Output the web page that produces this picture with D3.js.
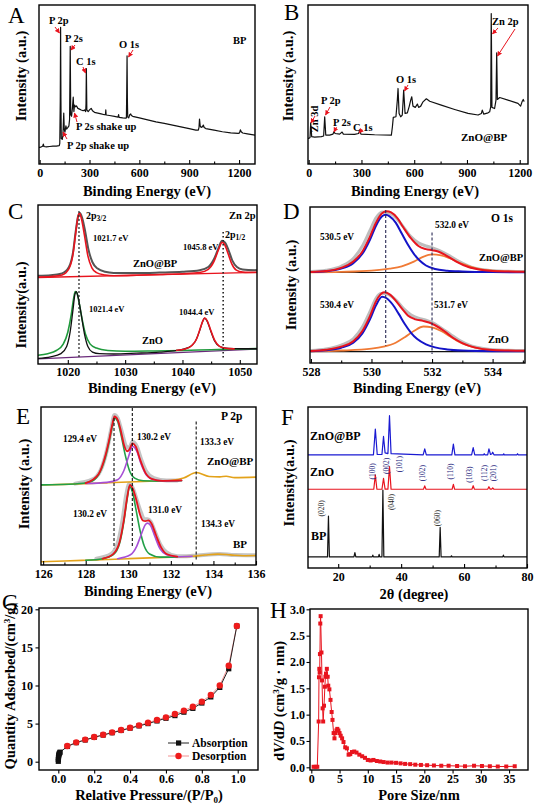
<!DOCTYPE html>
<html><head><meta charset="utf-8">
<script src="https://cdn.jsdelivr.net/npm/d3@7/dist/d3.min.js"></script>
<style>
body{margin:0;background:#fff;}
svg text{font-family:"Liberation Serif","Times New Roman",Times,serif;}
</style></head><body>
<script>
// ================= DATA =================
// A: XPS survey of BP  [binding energy eV, intensity a.u.]
const surveyBP = [[-4,10.4],[0,10.4],[10,10.8],[18,11.2],[22,12.5],[26,11],[40,10.8],[60,11],[80,11.2],[100,11.3],[118,11.5],[121,13],[124,40],[126,86],[128,40],[130,16],[136,15.5],[140,18],[145,32],[148,22],[152,20],[158,24],[162,22],[170,23],[176,24],[180,28],[184,74],[187,31],[192,30],[197,35],[202,42],[206,33],[210,37],[216,36],[222,36.5],[230,35],[240,34.5],[250,34],[262,33.5],[270,34],[277,33],[279,38],[281,60],[284,34],[292,33],[300,34],[310,35],[318,33.5],[330,32.5],[350,32],[370,31.5],[390,31],[396,31],[398,34],[400,30.8],[420,30.5],[450,30],[472,29.5],[475,31],[478,29.3],[500,29],[518,28.8],[522,29],[524,45],[526,68],[528,40],[530,29.5],[536,29],[542,31],[548,31.5],[552,30.5],[560,30],[580,29.5],[600,29],[650,27.8],[700,26.5],[750,25.5],[800,24.5],[850,23.3],[900,22.2],[940,21.3],[955,21.3],[959,23],[962,28.3],[966,24],[972,23],[980,23.5],[985,24.5],[990,23],[1000,22.3],[1050,21.3],[1100,20.3],[1150,19.6],[1195,19.2],[1203,19.6],[1208,21.5],[1213,20.3],[1222,19.5],[1250,19],[1296,18.2]];
// B: XPS survey of ZnO@BP
const surveyZnOBP = [[-4,16.1],[0,16.1],[7.6,16.7],[11.4,25.9],[17,17.2],[34,16.9],[72,17.2],[85,17.6],[91,29.7],[97,18.2],[119,18.2],[138,18.8],[144,20.3],[150,19.2],[176,18.8],[190,20.1],[197,18.8],[261,18.6],[284,19.2],[290,21.3],[297,18.8],[375,18.4],[470,18.2],[476,23.4],[481,29.3],[496,29.7],[504,40.2],[508,47.5],[514,31.8],[523,29.7],[532,30.8],[536,38],[540,46.4],[548,31.8],[561,32.2],[572,36.4],[580,40.2],[586,42.3],[593,36.4],[606,35.6],[618,37.7],[625,35.6],[637,36.4],[650,39.1],[669,41],[688,39.5],[754,37],[830,34.3],[906,31.8],[963,30.8],[982,31.8],[987,33.9],[995,31.4],[1020,32.2],[1029,32.8],[1035,36],[1038,94.6],[1042,35.6],[1057,34.9],[1065,40.2],[1069,69.9],[1073,40.6],[1086,41.8],[1133,40.2],[1190,38.1],[1205,36.4],[1213,39.1],[1220,40.6],[1224,39.5]];

// C: Zn 2p
const zn2pTopRaw = [[1014.8,55.5],[1017,55.8],[1019,57],[1020.2,61],[1020.9,70],[1021.4,84],[1021.8,93],[1022.1,95],[1022.5,92],[1023,84],[1023.6,72],[1024.3,64],[1025.2,60],[1026.5,58],[1028,57.3],[1032,57.2],[1036,57.5],[1040,58],[1043,59],[1044.5,61],[1045.5,66],[1046.3,73],[1046.9,77.5],[1047.4,76.5],[1048,72],[1048.7,65],[1049.5,61],[1050.5,59.5],[1053,59]];
const zn2pTopFit = [[1014.8,54.6],[1017,55],[1019,56],[1020.2,60],[1020.9,69],[1021.4,83],[1021.8,93],[1022.05,94.8],[1022.4,91],[1022.9,81],[1023.5,68],[1024.2,60.5],[1025,57.5],[1026.5,56],[1028,55.5],[1032,55.8],[1036,56.3],[1040,56.8],[1043,57.5],[1044.5,59.5],[1045.5,64.5],[1046.3,72],[1046.9,76.5],[1047.3,75.5],[1047.9,70],[1048.6,63],[1049.4,59],[1050.5,57.8],[1053,57.5]];
const zn2pTopBase = [[1014.8,54.4],[1053,57.7]];
const zn2pBotRaw = [[1014.8,3.5],[1017,4.5],[1018.8,6.5],[1019.8,11],[1020.4,20],[1020.9,34],[1021.25,44],[1021.5,45.5],[1021.8,42],[1022.3,32],[1022.9,19],[1023.5,11],[1024.3,7.5],[1025.5,6.5],[1028,6.3],[1032,6.8],[1036,7.5],[1039,8.5],[1041,10.3],[1042.2,14],[1043,21],[1043.5,26.5],[1043.85,28.8],[1044.3,27],[1044.9,21],[1045.6,14.5],[1046.5,11],[1048,9.8],[1050,9.6],[1053,9.6]];
const zn2pBotGreen = [[1014.8,5.5],[1016.5,6.5],[1018,8.5],[1019.2,12.5],[1020,20],[1020.6,31],[1021.0,41],[1021.3,45.5],[1021.6,44.5],[1022,38],[1022.5,28],[1023.1,18.5],[1023.9,12.5],[1025,10],[1027,8.5],[1030,8],[1035,8.2],[1040,8.5],[1045,9],[1050,9.4],[1053,9.7]];
const zn2pBotRed = [[1039,8.6],[1040.5,9.5],[1041.6,11.5],[1042.5,16],[1043.1,22.5],[1043.6,27.5],[1043.9,28.9],[1044.3,27.3],[1044.9,21.5],[1045.6,15],[1046.4,11.3],[1047.5,9.9],[1049,9.5]];
const zn2pBotBase = [[1014.8,3.2],[1053,9.4]];
const zn2pRefLines = [[1021.95,96,3.8],[1047.1,83,3.3]];

// D: O 1s
const o1sTopRaw = [[528,58.6],[528.5,59.5],[529,62],[529.4,67],[529.7,75],[529.95,85],[530.15,93],[530.35,96.8],[530.5,96.5],[530.7,95],[530.9,91],[531.1,86],[531.3,81],[531.55,77],[531.8,75],[532,74],[532.25,72],[532.55,69],[532.9,65],[533.3,61.5],[533.7,59.8],[534.2,59],[535.1,58.6]];
const o1sTopSum = [[528,58.4],[528.5,59],[529,61],[529.4,65],[529.7,71.5],[529.95,81],[530.15,90],[530.35,96],[530.5,97.2],[530.65,96.5],[530.85,93],[531.05,87],[531.3,80],[531.55,75],[531.8,73],[532,72.3],[532.2,71.5],[532.5,68.5],[532.8,65],[533.2,61.5],[533.6,59.8],[534,59],[535.1,58.5]];
const o1sTopLattice = [[528,58.3],[528.5,58.8],[529,60.5],[529.4,64],[529.7,70],[529.95,79],[530.15,88],[530.35,94],[530.47,95],[530.6,94],[530.8,90],[531.0,83],[531.2,76],[531.4,70],[531.6,65.5],[531.8,62.5],[532.1,60.3],[532.5,59.2],[533,58.7],[534,58.3],[535.1,58.2]];
const o1sTopOH = [[528,58.1],[529,58.4],[530,59.2],[530.6,60.5],[531,62],[531.4,65],[531.7,68],[532,69.6],[532.3,69],[532.6,67],[533,63.5],[533.5,60.5],[534,59.2],[535.1,58.4]];
const o1sTopBase = [[528,58],[535.1,58]];
const o1sBotRaw = [[528,8],[528.5,9],[529,11.5],[529.4,15.5],[529.7,23],[529.95,33],[530.15,41.5],[530.3,44.5],[530.45,44.6],[530.65,43],[530.85,39.5],[531.05,35],[531.3,31],[531.55,28.7],[531.8,27.5],[532,26],[532.3,22.5],[532.6,18.5],[532.9,14.5],[533.3,11],[533.8,9],[534.4,8.2],[535.1,8]];
const o1sBotSum = [[528,7.7],[528.5,8.5],[529,10.5],[529.4,14],[529.7,20.5],[529.95,30],[530.15,39.5],[530.3,44],[530.42,45.3],[530.6,44],[530.8,40],[531,35],[531.2,30.5],[531.45,28],[531.7,27],[531.9,26],[532.1,24.2],[532.4,20.5],[532.7,16],[533,12.8],[533.4,10],[534,8.3],[535.1,7.8]];
const o1sBotLattice = [[528,7.6],[528.5,8.2],[529,9.8],[529.4,13],[529.7,19],[529.95,28],[530.15,37],[530.35,42.5],[530.5,41.5],[530.7,37.5],[530.9,31.5],[531.1,25],[531.3,19.5],[531.5,15.5],[531.8,12],[532.1,10],[532.5,8.7],[533,8],[534,7.6],[535.1,7.5]];
const o1sBotOH = [[528,7.5],[529,8],[530,9.2],[530.4,10.5],[530.8,13],[531.1,16.5],[531.4,20.5],[531.72,23.4],[532,22.8],[532.3,20.5],[532.6,17],[533,12.5],[533.5,9.5],[534,8.3],[535.1,7.7]];
const o1sBotBase = [[528,7.3],[535.1,7.3]];
const o1sRefLines = [[530.47,98,11],[532.0,83.6,5.7]];

// E: P 2p
const p2pTopBase = [[125.9,50.6],[127,51],[128,51.5],[129,52],[130,52.5],[131,53],[132,53.5],[132.6,55],[133.2,58.5],[133.8,56],[134.3,55.8],[134.6,56.2],[135,55.3],[136,55.6]];
const p2pTopRaw = [[127.5,51.5],[128.3,54],[128.7,60],[129,73],[129.2,86],[129.35,95],[129.5,93],[129.7,84],[129.9,75],[130.05,74],[130.2,78],[130.4,75],[130.6,67],[130.85,59],[131.2,55],[131.8,53.5],[132.3,53.5]];
const p2pTopA = [[125.9,50.7],[127.5,51.3],[128.2,52.5],[128.6,57],[128.9,67],[129.1,78],[129.25,88],[129.35,93],[129.5,91],[129.65,83],[129.85,70],[130.05,60],[130.3,55],[130.7,53.3],[131.5,53],[132.5,53.4]];
const p2pTopB = [[128,51.6],[129,52.3],[129.5,54],[129.8,60],[130.0,68],[130.2,75],[130.4,72],[130.6,64],[130.85,57],[131.2,54],[131.8,53.2],[132.5,53.5]];
const p2pTopSum = [[128,51.8],[128.6,57.5],[128.9,68],[129.1,79],[129.25,89],[129.35,94],[129.5,92],[129.65,85],[129.8,76],[129.95,72],[130.05,73],[130.2,77],[130.35,75],[130.55,67],[130.8,58.5],[131.1,54.5],[131.6,53.3],[132.5,53.5]];
const p2pBotBase = [[125.9,2.1],[127,2.5],[128,3],[129,3.5],[130,4],[131,4.5],[132,5],[133,5.5],[133.6,6.3],[134.2,6.9],[134.8,6.4],[135.4,5.9],[136,6]];
const p2pBotRaw = [[128.5,4],[129.2,7],[129.55,16],[129.75,30],[129.9,44],[130.05,51.5],[130.2,49],[130.4,41],[130.6,33],[130.75,29],[130.9,29],[131.05,27.5],[131.25,21],[131.5,13],[131.8,8],[132.3,5.5],[133,5.8],[134.3,7],[135,6.3],[136,6.2]];
const p2pBotA = [[128,3],[128.8,4],[129.3,6.5],[129.6,14],[129.8,28],[129.95,42],[130.06,49.7],[130.2,46],[130.35,36],[130.55,22],[130.75,12],[131,7],[131.5,5],[132.3,5]];
const p2pBotB = [[129.5,4],[130.1,6.5],[130.4,12],[130.6,19],[130.8,25.5],[130.9,26.5],[131.05,25],[131.25,18],[131.5,10],[131.8,6.5],[132.3,5.2],[133,5.5]];
const p2pBotSum = [[128.8,4],[129.3,7],[129.6,15],[129.8,29],[129.95,43],[130.08,50.7],[130.22,48],[130.4,40],[130.55,32],[130.7,28],[130.8,27.8],[130.95,28.2],[131.1,26],[131.3,19],[131.55,11],[131.8,7],[132.3,5.3]];
const p2pRefLines = [[129.33,93,10.6],[130.19,99.4,11.6],[133.19,90.9,3.2]];

// F: XRD  [2theta, intensity]
const xrdZnOBP = [[10.4,70.3],[31.2,70.3],[31.8,86.3],[32.4,70.5],[33.9,70.5],[34.4,81.7],[34.9,71.5],[35.8,71],[36.3,94.6],[36.8,71],[47,70.3],[47.5,74],[48,70.3],[56.1,70.3],[56.6,76.9],[57.1,70.3],[62.4,70.3],[62.9,74.8],[63.4,70.3],[66.2,70.3],[66.4,71],[66.6,70.3],[67.5,70.3],[67.9,74],[68.4,70.5],[68.8,70.8],[69.1,71.9],[69.5,70.3],[72.4,70.3],[72.6,70.9],[72.8,70.3],[76.8,70.3],[77,71],[77.2,70.3],[80,70.3]];
const xrdZnO = [[10.4,48.9],[31.3,48.9],[31.8,57.8],[32.3,48.9],[33.9,48.9],[34.4,55.7],[34.9,49],[35.8,49],[36.3,63],[36.8,49],[47.1,48.9],[47.5,51],[47.9,48.9],[56.2,48.9],[56.6,52],[57,48.9],[62.5,48.9],[62.9,51.1],[63.3,48.9],[67.5,48.9],[67.9,50.5],[68.3,49],[68.8,49],[69.1,49.7],[69.5,48.9],[80,48.9]];
const xrdBP = [[10.4,6.9],[16.6,6.9],[16.9,32.2],[17.2,6.9],[25,6.9],[25.3,9.6],[25.6,6.9],[30.8,6.9],[31,8],[31.2,6.9],[32.8,6.9],[33,8.5],[33.2,6.9],[33.9,6.9],[34.2,48.4],[34.5,6.9],[52.1,6.9],[52.4,25.2],[52.7,6.9],[55.8,6.9],[56,7.6],[56.2,6.9],[72.3,6.9],[72.5,8],[72.7,6.9],[80,6.9]];
const hklZnO = [["(100)",31.8,60],["(002)",36.3,63.5],["(101)",40.3,64.5],["(102)",47.5,59],["(110)",56.6,60],["(103)",62.6,58],["(112)",67.2,59],["(201)",70.0,59]];
const hklBP = [["(020)",15.5,37],["(040)",37.6,41],["(060)",52.4,31]];

// G: N2 isotherm [P/P0, cm3/g]
const absorption = [[0,0.05],[0,0.3],[0.001,0.55],[0.002,0.75],[0.003,0.9],[0.005,1.05],[0.007,1.15],[0.01,1.25],[0.05,2.0],[0.1,2.5],[0.15,2.85],[0.2,3.2],[0.25,3.5],[0.3,3.8],[0.35,4.1],[0.4,4.4],[0.45,4.7],[0.5,5.0],[0.55,5.35],[0.6,5.7],[0.65,6.05],[0.7,6.5],[0.75,7.0],[0.8,7.7],[0.85,8.5],[0.9,9.75],[0.95,12.2],[0.995,17.8]];
const desorption = [[0.995,17.8],[0.95,12.6],[0.9,10.0],[0.85,8.75],[0.8,7.88],[0.75,7.22],[0.7,6.7],[0.65,6.26],[0.6,5.82],[0.55,5.47],[0.5,5.12],[0.45,4.77],[0.4,4.46],[0.35,4.16],[0.3,3.85],[0.25,3.54],[0.2,3.24],[0.15,2.9],[0.1,2.54],[0.05,2.06]];

// H: pore size distribution [nm, dV/dD]
const poreDist = [[0.41,0.01],[0.77,0.01],[1.06,0.01],[1.3,0.87],[1.36,1.71],[1.42,1.87],[1.48,1.8],[1.53,2.15],[1.59,2.73],[1.65,2.87],[1.8,2.18],[1.9,1.65],[2.0,1.12],[2.1,0.87],[2.25,1.17],[2.4,1.53],[2.5,1.72],[2.6,1.78],[2.75,1.87],[2.9,1.72],[3.0,1.55],[3.2,1.48],[3.4,1.28],[3.6,1.05],[3.75,0.9],[3.95,0.65],[4.1,0.55],[4.25,0.65],[4.45,0.7],[4.6,0.73],[4.8,0.7],[5.0,0.65],[5.2,0.6],[5.45,0.55],[5.7,0.48],[6.0,0.38],[6.3,0.36],[6.6,0.24],[6.9,0.25],[7.2,0.29],[7.6,0.3],[8.0,0.28],[8.5,0.24],[9.0,0.21],[9.5,0.18],[10.0,0.14],[10.5,0.13],[11.0,0.14],[11.6,0.12],[12.2,0.11],[12.8,0.1],[13.5,0.09],[14.2,0.09],[15.0,0.085],[15.8,0.075],[16.6,0.065],[17.5,0.06],[18.4,0.05],[19.4,0.045],[20.5,0.04],[21.7,0.035],[23,0.03],[24.3,0.03],[25.8,0.025],[27.2,0.02],[28.8,0.03],[30.2,0.025],[31.6,0.02],[33,0.015],[34.5,0.015],[36,0.02]];

// axis ticks
const ticksSurveyA = [0,300,600,900,1200], ticksSurveyB = [0,300,600,900,1200];
const ticksZn = [1020,1030,1040,1050], ticksO = [528,530,532,534], ticksP = [126,128,130,132,134,136];
const ticksXRD = [20,40,60,80], ticksPP = [0,0.2,0.4,0.6,0.8,1.0], ticksQ = [0,5,10,15,20];
const ticksPore = [0,5,10,15,20,25,30,35], ticksDV = [0,0.5,1.0,1.5,2.0,2.5,3.0];

// ================= DRAW =================
const svg = d3.select('body').append('svg').attr('width',539).attr('height',806);
const defs = svg.append('defs');
defs.append('marker').attr('id','arr').attr('viewBox','0 0 10 10').attr('refX',9).attr('refY',5)
  .attr('markerWidth',5).attr('markerHeight',5).attr('markerUnits','userSpaceOnUse').attr('orient','auto')
  .append('path').attr('d','M0,0L10,5L0,10z').attr('fill','#e8141e');
let cid=0;
function panel(c){
  const x=d3.scaleLinear().domain(c.xd).range([c.x0,c.x1]);
  const y=d3.scaleLinear().domain(c.yd).range([c.y1,c.y0]);
  const id='cl'+(cid++);
  defs.append('clipPath').attr('id',id).append('rect').attr('x',c.x0).attr('y',c.y0).attr('width',c.x1-c.x0).attr('height',c.y1-c.y0);
  const g=svg.append('g').attr('clip-path',`url(#${id})`);
  return {x,y,g,c};
}
function line(p,data,color,w,curve,dash){
  p.g.append('path').datum(data).attr('fill','none').attr('stroke',color).attr('stroke-width',w)
   .attr('stroke-linejoin','round').attr('stroke-linecap','round').attr('stroke-dasharray',dash||null)
   .attr('d',d3.line().x(d=>p.x(d[0])).y(d=>p.y(d[1])).curve(curve||d3.curveLinear));
}
function refLines(p,arr,dash,color,w){
  p.g.selectAll(null).data(arr).enter().append('line')
   .attr('x1',d=>p.x(d[0])).attr('x2',d=>p.x(d[0])).attr('y1',d=>p.y(d[1])).attr('y2',d=>p.y(d[2]))
   .attr('stroke',color).attr('stroke-width',w).attr('stroke-dasharray',dash);
}
function frame(p){
  svg.append('rect').attr('x',p.c.x0).attr('y',p.c.y0).attr('width',p.c.x1-p.c.x0).attr('height',p.c.y1-p.c.y0)
   .attr('fill','none').attr('stroke','#000').attr('stroke-width',1.4);
}
function styleAxis(g,size){
  g.attr('font-family','"Liberation Serif","Times New Roman",serif').attr('font-size',size).attr('font-weight','bold');
  g.select('.domain').remove();
  g.selectAll('.tick line').attr('stroke','#000').attr('stroke-width',1.1);
  g.selectAll('.tick text').attr('fill','#000');
}
function xIn(p,ticks,minor,pad,fmt){
  const g=svg.append('g').attr('transform',`translate(0,${p.c.y1})`)
    .call(d3.axisBottom(p.x).tickValues(ticks).tickSize(-4).tickPadding(pad).tickFormat(fmt||d3.format('d')));
  styleAxis(g,12);
  if(minor){
    const m=svg.append('g').attr('transform',`translate(0,${p.c.y1})`)
      .call(d3.axisBottom(p.x).tickValues(minor).tickSize(-2.5).tickFormat(''));
    styleAxis(m,12);
  }
}
function xOut(p,ticks,pad,fmt){
  const g=svg.append('g').attr('transform',`translate(0,${p.c.y1})`)
    .call(d3.axisBottom(p.x).tickValues(ticks).tickSize(3.5).tickPadding(pad).tickFormat(fmt));
  styleAxis(g,12);
}
function yOut(p,ticks,pad,fmt){
  const g=svg.append('g').attr('transform',`translate(${p.c.x0},0)`)
    .call(d3.axisLeft(p.y).tickValues(ticks).tickSize(3.5).tickPadding(pad).tickFormat(fmt));
  styleAxis(g,12);
}
function txt(x,y,s,size,opt){
  opt=opt||{};
  const t=svg.append('text').attr('x',x).attr('y',y).attr('font-size',size)
    .attr('font-weight',opt.w||'bold').attr('fill',opt.fill||'#000').attr('text-anchor',opt.anchor||'start');
  if(opt.rot) t.attr('transform',`rotate(${opt.rot},${x},${y})`);
  t.text(s);
  return t;
}
function arrow(x1,y1,x2,y2){
  svg.append('line').attr('x1',x1).attr('y1',y1).attr('x2',x2).attr('y2',y2)
    .attr('stroke','#e8141e').attr('stroke-width',1).attr('marker-end','url(#arr)');
}
function letter(x,y,s){ txt(x,y,s,23,{w:'normal'}); }
function ytitle(x,y,s,size){ txt(x,y,s,size||14.5,{anchor:'middle',rot:-90}); }
function xtitle(x,y,s,size){ txt(x,y,s,size||14.5,{anchor:'middle'}); }

// ---------- A
const pA = panel({x0:39,x1:255,y0:5,y1:164,xd:[-4,1296],yd:[0,100]});
line(pA,surveyBP,'#111',1.2);
frame(pA);
xIn(pA,ticksSurveyA,[150,450,750,1050],4);
letter(8,23,'A');
ytitle(26,76,'Intensity (a.u.)');
xtitle(147,196,'Binding Energy (eV)');
txt(49,24,'P 2p',10.5); arrow(55,27,59.5,33);
txt(65,41.5,'P 2s',10.5); arrow(75,45,71,50);
txt(76,65,'C 1s',10.5); arrow(83,67,85.5,73);
txt(119,47.5,'O 1s',10.5); arrow(133,50,128.5,57);
txt(233,44,'BP',10.5);
txt(76,130,'P 2s shake up',10.5); arrow(77,122,74.5,113);
txt(67,149,'P 2p shake up',10.5); arrow(67,139,63,132);

// ---------- B
const pB = panel({x0:308,x1:528,y0:5,y1:164,xd:[-4,1247],yd:[0,100]});
line(pB,surveyZnOBP,'#111',1.2);
frame(pB);
xIn(pB,ticksSurveyB,[150,450,750,1050],4);
letter(284,20,'B');
ytitle(293,76,'Intensity (a.u.)');
xtitle(415,196,'Binding Energy (eV)');
txt(318,119,'Zn 3d',10.5,{anchor:'middle',rot:-90}); arrow(315,116,311,123);
txt(321,104,'P 2p',10.5); arrow(330,107,325.5,115);
txt(333,126,'P 2s',10.5); arrow(336.5,127,334,132);
txt(353,131,'C 1s',10.5); arrow(362,129.5,359,133);
txt(396,83,'O 1s',10.5); arrow(408,85,404.5,91);
txt(492,25,'Zn 2p',10.5); arrow(498,28,492.5,34); arrow(515,29,497.5,56);
txt(461,141,'ZnO@BP',11);

// ---------- C
const pC = panel({x0:38,x1:257,y0:205,y1:364,xd:[1014.8,1053],yd:[0,100]});
line(pC,zn2pBotBase,'#6a2a7a',1.2);
line(pC,zn2pTopRaw,'#555',2,d3.curveMonotoneX);
line(pC,zn2pTopBase,'#e8141e',1.3);
line(pC,zn2pTopFit,'#e8141e',1.6,d3.curveMonotoneX);
line(pC,zn2pBotGreen,'#1f9a3c',1.6,d3.curveMonotoneX);
line(pC,zn2pBotRaw,'#111',1.3,d3.curveMonotoneX);
line(pC,zn2pBotRed,'#e8141e',1.6,d3.curveMonotoneX);
refLines(pC,zn2pRefLines,'1.5,2.5','#222',1.6);
frame(pC);
xIn(pC,ticksZn,[1025,1035,1045],3.5);
letter(8,219,'C');
ytitle(26,305,'Intensity(a.u.)');
xtitle(152,393,'Binding Energy (eV)');
{ const t=txt(86,219,'2p',10); t.append('tspan').attr('font-size',7.5).attr('dy',2).text('3/2'); }
txt(93,241,'1021.7 eV',8.5);
txt(229,219,'Zn 2p',10.5);
{ const t=txt(225,238,'2p',10); t.append('tspan').attr('font-size',7.5).attr('dy',2).text('1/2'); }
txt(183,250,'1045.8 eV',8.5);
txt(133,267,'ZnO@BP',10.5);
txt(89,312,'1021.4 eV',8.5);
txt(179,315,'1044.4 eV',8.5);
txt(142,344,'ZnO',10.5);

// ---------- D
const pD = panel({x0:310,x1:525,y0:207,y1:363,xd:[527.97,535.07],yd:[0,100]});
line(pD,o1sTopBase,'#111',1.2); line(pD,o1sBotBase,'#111',1.2);
line(pD,o1sTopRaw,'#bdbdbd',3,d3.curveMonotoneX);
line(pD,o1sBotRaw,'#bdbdbd',3,d3.curveMonotoneX);
line(pD,o1sTopOH,'#f07a35',1.8,d3.curveMonotoneX);
line(pD,o1sBotOH,'#f07a35',1.8,d3.curveMonotoneX);
line(pD,o1sTopLattice,'#1414c8',2,d3.curveMonotoneX);
line(pD,o1sBotLattice,'#1414c8',2,d3.curveMonotoneX);
line(pD,o1sTopSum,'#e8141e',2,d3.curveMonotoneX);
line(pD,o1sBotSum,'#e8141e',2,d3.curveMonotoneX);
refLines(pD,o1sRefLines,'3,2','#2a2a55',1.1);
frame(pD);
xIn(pD,ticksO,[529,531,533,535],4.5);
letter(283,219,'D');
ytitle(296,285,'Intensity (a.u.)');
xtitle(417,393,'Binding Energy (eV)');
txt(491,222,'O 1s',11.5);
txt(320,240,'530.5 eV',9.3);
txt(435,228,'532.0 eV',9.3);
txt(479,261,'ZnO@BP',10.5);
txt(320,308,'530.4 eV',9.3);
txt(434,308,'531.7 eV',9.3);
txt(488,343,'ZnO',10.5);

// ---------- E
const pE = panel({x0:41,x1:256,y0:407,y1:565,xd:[125.9,136],yd:[0,100]});
line(pE,p2pTopRaw,'#c4c4c4',4,d3.curveMonotoneX);
line(pE,p2pBotRaw,'#c4c4c4',4,d3.curveMonotoneX);
line(pE,p2pTopBase,'#e3a21a',1.6,d3.curveMonotoneX);
line(pE,p2pBotBase,'#e3a21a',1.6,d3.curveMonotoneX);
line(pE,p2pTopA,'#22a048',1.6,d3.curveMonotoneX);
line(pE,p2pBotA,'#22a048',1.6,d3.curveMonotoneX);
line(pE,p2pTopB,'#a64fd6',1.6,d3.curveMonotoneX);
line(pE,p2pBotB,'#a64fd6',1.6,d3.curveMonotoneX);
line(pE,p2pTopSum,'#e8141e',1.8,d3.curveMonotoneX);
line(pE,p2pBotSum,'#e8141e',1.8,d3.curveMonotoneX);
refLines(pE,p2pRefLines,'3,2','#111',1.1);
frame(pE);
xIn(pE,ticksP,[127,129,131,133,135],4.5);
letter(16,424,'E');
ytitle(29,484,'Intensity (a.u.)');
xtitle(148,596,'Binding Energy (eV)');
txt(221,420,'P 2p',11.5);
txt(63,442,'129.4 eV',9.3);
txt(137,440,'130.2 eV',9.3);
txt(200,445,'133.3 eV',9.3);
txt(207,465,'ZnO@BP',11);
txt(73,517,'130.2 eV',9.3);
txt(148,513,'131.0 eV',9.3);
txt(201,527,'134.3 eV',9.3);
txt(233,548,'BP',11);

// ---------- F
const pF = panel({x0:308,x1:527,y0:407,y1:568,xd:[10.4,80],yd:[0,100]});
line(pF,xrdBP,'#111',1.2);
line(pF,xrdZnO,'#e8141e',1.2);
line(pF,xrdZnOBP,'#1a1ad2',1.2);
frame(pF);
xIn(pF,ticksXRD,[30,50,70],4);
letter(281,425,'F');
ytitle(294,483,'Intensity(a.u.)');
xtitle(414,599,'2θ (degree)');
hklZnO.forEach(d=>txt(pF.x(d[1]),pF.y(d[2]),d[0],7.5,{w:'normal',fill:'#1c1c7a',anchor:'middle',rot:-90}));
hklBP.forEach(d=>txt(pF.x(d[1]),pF.y(d[2]),d[0],7.5,{w:'normal',fill:'#222',anchor:'middle',rot:-90}));
txt(310,440,'ZnO@BP',12);
txt(310,476,'ZnO',12);
txt(311,540,'BP',12);

// ---------- G
const pG = panel({x0:39,x1:258,y0:608,y1:770,xd:[-0.1076,1.1131],yd:[-1.09,20.17]});
line(pG,desorption,'#f29090',1);
line(pG,absorption,'#222',1);
pG.g.selectAll(null).data(absorption).enter().append('rect')
  .attr('x',d=>pG.x(d[0])-2.6).attr('y',d=>pG.y(d[1])-2.6).attr('width',5.2).attr('height',5.2).attr('fill','#111');
pG.g.selectAll(null).data(desorption).enter().append('circle')
  .attr('cx',d=>pG.x(d[0])).attr('cy',d=>pG.y(d[1])).attr('r',3.2).attr('fill','#ee1c1c');
frame(pG);
xOut(pG,ticksPP,1,d3.format('.1f'));
yOut(pG,ticksQ,2.5,d3.format('d'));
letter(2,610,'G');
{ const t=txt(15,686,'Quantity Adsorbed/(cm',14.5,{anchor:'middle',rot:-90});
  t.append('tspan').attr('font-size',9).attr('dy',-5).text('3');
  t.append('tspan').attr('dy',5).text('/g)'); }
{ const t=txt(149,800,'Relative Pressure/(P/P',14.5,{anchor:'middle'});
  t.append('tspan').attr('font-size',9).attr('dy',3).text('0');
  t.append('tspan').attr('dy',-3).text(')'); }
// legend
svg.append('line').attr('x1',168).attr('x2',189).attr('y1',743).attr('y2',743).attr('stroke','#222').attr('stroke-width',1);
svg.append('rect').attr('x',176).attr('y',740.4).attr('width',5.2).attr('height',5.2).attr('fill','#111');
txt(192,747,'Absorption',11.5);
svg.append('line').attr('x1',168).attr('x2',189).attr('y1',756).attr('y2',756).attr('stroke','#f29090').attr('stroke-width',1);
svg.append('circle').attr('cx',178.5).attr('cy',756).attr('r',3.2).attr('fill','#ee1c1c');
txt(192,760,'Desorption',11.5);

// ---------- H
const pH = panel({x0:310,x1:528,y0:609,y1:770,xd:[-0.23,38.35],yd:[-0.051,3.006]});
line(pH,poreDist,'#e8141e',1);
pH.g.selectAll(null).data(poreDist).enter().append('rect')
  .attr('x',d=>pH.x(d[0])-2).attr('y',d=>pH.y(d[1])-2).attr('width',4).attr('height',4).attr('fill','#e8141e');
frame(pH);
xOut(pH,ticksPore,1,d3.format('d'));
yOut(pH,ticksDV,1.5,d3.format('.1f'));
letter(270,618,'H');
{ const t=txt(284,701,'d',14.5,{anchor:'middle',rot:-90});
  t.append('tspan').attr('font-style','italic').text('V');
  t.append('tspan').text('/d');
  t.append('tspan').attr('font-style','italic').text('D');
  t.append('tspan').text(' (cm');
  t.append('tspan').attr('font-size',9).attr('dy',-5).text('3');
  t.append('tspan').attr('dy',5).text('/g · nm)'); }
xtitle(419,800,'Pore Size/nm');
</script></body></html>
